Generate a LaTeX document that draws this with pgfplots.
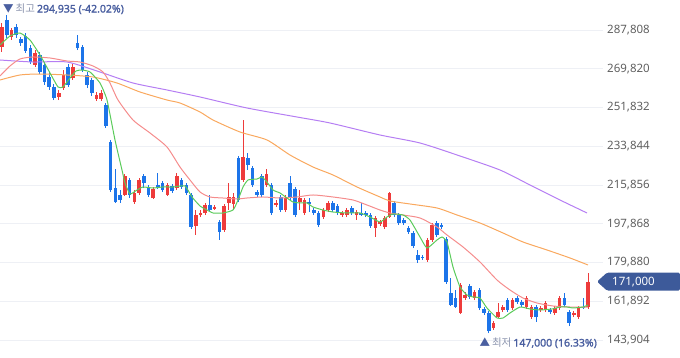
\documentclass[border=0pt]{standalone}
\usepackage{fontspec}
\setmainfont{Noto Sans}
\newfontfamily\kr{Noto Sans CJK KR}
\newfontfamily\numb{Noto Sans}[FakeBold=1.6]
\usepackage{pgfplots}
\usepackage{pgfplotstable}
\pgfplotsset{compat=1.18}
\definecolor{upc}{HTML}{EE3B3B}
\definecolor{dnc}{HTML}{1C74E9}
\definecolor{maG}{HTML}{5BCB5B}
\definecolor{maR}{HTML}{F58C8C}
\definecolor{maO}{HTML}{F9A85E}
\definecolor{maP}{HTML}{B57EF3}
\definecolor{gridc}{HTML}{EEF0F5}
\definecolor{tickc}{HTML}{5F5F5F}
\definecolor{lblA}{HTML}{4A5FA0}
\definecolor{lblB}{HTML}{8A93AD}
\definecolor{tagc}{HTML}{3D5A9A}

% x o h l c  (up candles)
\pgfplotstableread{
x o h l c
0 279920 291060 277600 289200
2 284560 288740 283170 287810
7 271560 278520 270630 277130
12 256710 259960 255310 258560
13 260880 269240 259960 266920
15 265530 272020 264600 270630
20 255780 259030 254850 257630
21 255780 259960 254850 258560
26 211220 220960 210750 220040
28 207960 213530 207040 212140
29 212140 219110 211220 218180
32 209820 214930 209360 214000
35 211220 216790 210750 215860
37 214460 221430 213530 220040
41 196820 204250 192650 201930
42 201930 204250 201000 202860
43 202860 207500 201930 206570
45 204720 206570 204250 205640
47 194970 207040 194040 206110
48 207500 216790 204250 210290
49 207040 212140 204250 210290
51 218180 246030 217250 228850
56 215860 223280 214930 220960
58 206570 208890 205640 207500
60 204250 211220 203320 209820
63 207960 213530 204250 209820
64 202860 209820 201930 208890
68 201000 205180 200070 204250
69 204250 208430 203320 207500
72 201930 203790 201000 202860
73 201930 205180 201000 204250
75 201930 204250 199610 203320
79 195900 201470 191720 200540
80 197750 199610 196820 198680
81 196360 201470 195430 200540
82 201000 212610 200540 212140
90 181040 191260 180120 190330
91 190330 198220 189400 197290
97 156440 170370 155970 169440
98 163400 166190 162470 164800
100 163400 167120 162470 166190
104 149470 152730 148550 151800
105 154580 161080 154120 156900
106 157830 160150 156900 159220
108 158760 163400 157830 162470
111 159220 164330 158300 163400
112 154580 160150 153650 159220
114 157830 159690 156900 158760
115 157830 162010 156900 161080
117 156440 159690 155510 158760
118 158760 164330 157830 163400
121 155510 157370 154580 156440
122 154580 159690 153650 158760
124 159220 175010 158300 171000
}\upT

% down candles
\pgfplotstableread{
x o h l c
1 292450 294935 284100 285490
3 289200 290590 284100 285490
4 283630 284560 280380 281770
5 285020 286420 277130 278060
6 279450 280850 272020 272950
8 276200 277600 267380 268310
9 271560 272950 262280 263670
10 265990 268310 259960 261350
11 261350 262740 255310 256240
14 270630 272020 261350 262280
16 281770 285490 278520 279450
17 279920 280850 268310 269240
18 266920 268310 260880 262280
19 264600 265530 257170 258560
22 252990 253920 242320 243240
23 235820 236750 212610 213530
24 214460 223280 207500 207960
25 211220 213530 207500 208890
27 218180 219110 209820 211220
30 220040 220960 214460 216790
31 214930 215860 210290 211220
33 215860 221430 214000 214460
34 216790 217720 212610 213530
36 215390 216320 212140 213070
38 218180 219110 214000 214930
39 215860 216790 211220 212140
40 211220 212140 195430 196360
44 206570 211220 203320 204250
46 198680 199610 190330 194040
50 228390 229320 207960 208890
52 228390 230710 222820 225140
53 223750 224680 214930 215860
54 212610 213530 210290 211220
55 220040 220960 210290 211220
57 215860 216790 201930 202860
59 210290 211220 203320 204250
61 216790 220040 208890 209820
62 214000 214930 201000 201930
65 207960 209820 203320 207040
66 204250 205180 201930 202860
67 202860 203790 196360 197290
70 207500 208430 203320 204250
71 206110 207040 201930 202860
74 205180 206110 201930 202860
76 202860 207500 201470 201930
77 202860 203790 201000 201930
78 201930 202860 195900 196820
83 207500 208430 201000 201930
84 201930 202860 197290 198220
85 199610 200540 197290 198220
86 195900 196820 193110 194040
87 193580 194510 186610 187540
88 183360 185690 179650 181040
89 182440 183360 181040 181970
92 198220 199150 191720 192650
93 197290 198220 195430 196360
94 190790 191720 169900 170830
95 165720 172690 159690 160150
96 163400 167120 158760 159220
99 168970 169900 162940 163870
101 167120 168050 157830 158760
102 158300 159220 155510 156440
103 156440 157370 147000 148080
107 162470 163400 156900 157830
109 163400 164330 160620 161550
110 161550 162470 159220 160150
113 159220 160150 152260 154580
116 157830 158760 155970 156900
119 163400 165720 159220 160150
120 156900 157830 150400 151800
123 159220 163400 158300 158760
}\dnT

\begin{document}
\begin{tikzpicture}
\begin{axis}[
  scale only axis, width=603pt, height=358pt,
  xmin=-0.423, xmax=127.17, ymin=135550, ymax=301734,
  axis line style={draw=none}, tick style={draw=none},
  xtick=\empty,
  ytick={143904,161892,179880,197868,215856,233844,251832,269820,287808},
  yticklabels={{143,904},{161,892},{179,880},{197,868},{215,856},{233,844},{251,832},{269,820},{287,808}},
  ytick pos=right, yticklabel pos=right,
  yticklabel style={anchor=west, inner sep=0pt, xshift=4pt, text=tickc, font=\fontsize{11.5}{13}\selectfont},
  ymajorgrids, grid style={draw=gridc, line width=0.9pt},
  clip=false,
]
% up candles: wicks, bodies
\addplot[draw=none, mark=none, forget plot,
  error bars/.cd, y dir=plus, y explicit, error mark=none,
  error bar style={draw=upc, line width=1pt}]
  table[x=x, y=l, y error plus expr={\thisrow{h}-\thisrow{l}}] {\upT};
\addplot[draw=none, mark=none, forget plot,
  error bars/.cd, y dir=plus, y explicit, error mark=none,
  error bar style={draw=upc, line width=3.6pt}]
  table[x=x, y=o, y error plus expr={\thisrow{c}-\thisrow{o}}] {\upT};
% down candles: wicks, bodies
\addplot[draw=none, mark=none, forget plot,
  error bars/.cd, y dir=plus, y explicit, error mark=none,
  error bar style={draw=dnc, line width=1pt}]
  table[x=x, y=l, y error plus expr={\thisrow{h}-\thisrow{l}}] {\dnT};
\addplot[draw=none, mark=none, forget plot,
  error bars/.cd, y dir=plus, y explicit, error mark=none,
  error bar style={draw=dnc, line width=3.6pt}]
  table[x=x, y=c, y error plus expr={\thisrow{o}-\thisrow{c}}] {\dnT};

% MA120
\addplot[maP, line width=1pt, smooth, tension=0.4, mark=none] coordinates {
(-0.42,273880)(6.56,272950)(13.75,272950)(20.74,268310)(27.72,263200)(34.91,259960)
(41.90,256710)(51.84,251600)(62.42,247420)(69.40,244640)(79.98,239070)(88.45,235350)
(96.91,229320)(105.37,222820)(111.72,215860)(118.07,208890)(123.79,202860)};
% MA60
\addplot[maO, line width=1pt, smooth, tension=0.4, mark=none] coordinates {
(-0.42,264600)(3.81,266920)(8.04,267380)(13.75,266920)(19.26,265990)(24.33,263200)
(29.20,259030)(34.91,255310)(37.66,253920)(41.90,249740)(44.65,246030)(50.36,240460)
(56.07,236750)(60.94,229780)(65.81,224210)(70.04,220500)(75.12,214930)(79.98,210290)
(82.10,208430)(86.33,207040)(92.04,205180)(96.28,201930)(101.14,198220)(106.01,193580)
(110.24,189400)(115.32,185690)(120.19,181970)(124.00,178720)};
% MA20
\addplot[maR, line width=1pt, smooth, tension=0.4, mark=none] coordinates {
(-0.42,266460)(1.69,271100)(3.81,274350)(6.56,275280)(10.16,274810)(13.75,273420)
(16.50,272950)(19.26,271100)(21.37,268310)(22.85,263200)(24.55,255310)(27.72,246030)
(31.32,239990)(34.91,233490)(37.66,224210)(39.78,218180)(41.90,212610)(44.01,210290)
(46.76,209820)(49.73,209360)(51.84,209820)(55.23,210290)(58.82,209820)(62.42,210290)
(65.81,211220)(70.04,210290)(74.27,208890)(77.23,206570)(79.98,204250)(82.10,202860)
(84.85,201930)(88.45,200540)(92.04,196360)(94.16,192650)(97.55,187080)(101.14,180120)
(104.74,171760)(107.49,167120)(110.24,163400)(113.20,161080)(116.59,159690)
(120.19,159220)(124.00,159220)};
% MA5
\addplot[maG, line width=1pt, smooth, tension=0.3, mark=none] coordinates {
(-0.42,280850)(1.69,285020)(3.81,286420)(5.92,283170)(8.04,276200)(10.16,267850)
(11.85,261350)(12.91,261350)(14.39,265530)(15.66,268780)(16.93,269240)(18.62,268310)
(20.74,263200)(22.22,255310)(23.91,236750)(25.39,222820)(26.03,216790)(27.08,211680)
(28.57,213530)(29.84,214930)(31.95,214460)(34.07,214930)(36.18,214930)(38.72,215390)
(40.20,210290)(41.90,206110)(43.38,204250)(44.65,202860)(46.76,202860)(48.88,204250)
(49.94,208890)(51.00,214930)(52.05,218180)(53.96,218640)(55.01,219570)(56.07,217250)
(57.34,213530)(58.82,212140)(60.30,209820)(61.57,207960)(63.06,207500)(64.54,207500)
(65.81,205640)(67.92,204250)(70.04,203320)(73.00,202860)(75.75,202860)(77.87,201000)
(79.98,198680)(81.46,201000)(82.73,202400)(84.85,201930)(86.33,199610)(88.45,191720)
(89.93,186610)(92.04,190330)(93.10,191720)(94.16,189400)(95.43,177790)(96.91,168510)
(98.39,164800)(99.66,163870)(101.14,163400)(102.62,158760)(104.74,154120)(106.01,154120)
(107.49,156440)(109.61,159220)(111.72,158300)(113.84,157830)(116.38,158300)(118.07,159220)
(119.55,159220)(120.82,158760)(122.94,159220)(124.00,160150)};

\node[anchor=west, inner sep=0pt, font=\fontsize{10.5}{12}\selectfont] at (axis cs:0.21,297556)
  {{\kr\color{lblA}▼}\hspace{2pt}{\kr\color{lblB}최고}\hspace{2pt}{\numb\color{lblA}294,935 (-42.02\%)}};
\node[anchor=east, inner sep=0pt, font=\fontsize{10.5}{12}\selectfont] at (axis cs:125.9,142513)
  {{\kr\color{lblA}▲}\hspace{2pt}{\kr\color{lblB}최저}\hspace{2pt}{\numb\color{lblA}147,000 (16.33\%)}};
\coordinate (tag) at (axis cs:125.9,171000);
\end{axis}
\fill[tagc, rounded corners=1.5pt] (tag) -- ++(10pt,9pt) -- ++(73pt,0) -- ++(0,-18pt) -- ++(-73pt,0) -- cycle;
\node[anchor=west, inner sep=0pt, text=white, font=\fontsize{11.5}{13}\selectfont] at ([xshift=15pt]tag) {171,000};
\pgfresetboundingbox
\path[use as bounding box] (0,0) rectangle (680pt,358pt);
\end{tikzpicture}
\end{document}
